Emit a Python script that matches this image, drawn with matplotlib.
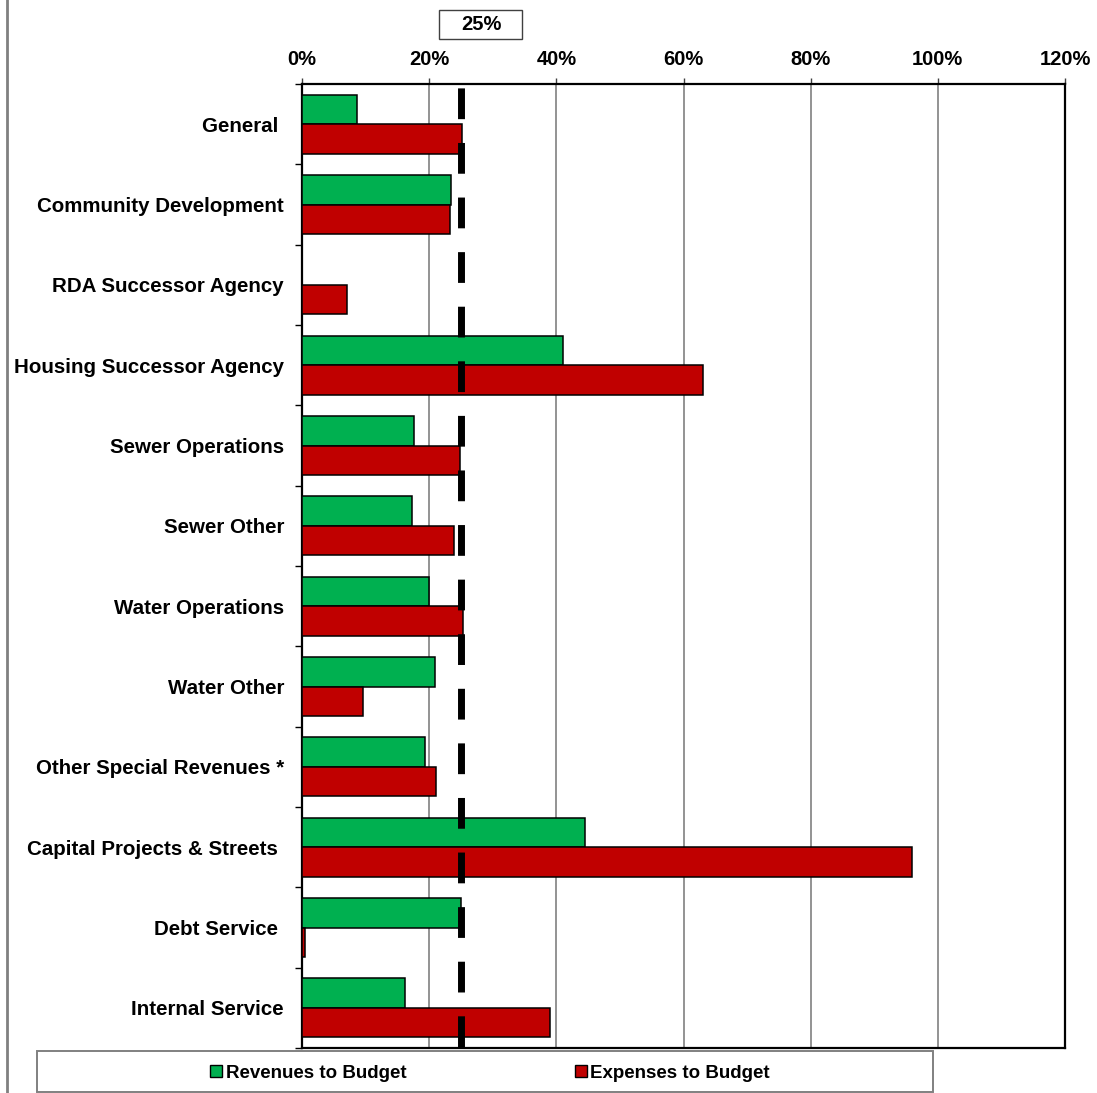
import matplotlib
matplotlib.use("Agg")
import matplotlib.pyplot as plt
from matplotlib.lines import Line2D
from matplotlib.patches import Rectangle

plt.rcParams['font.family'] = ['Liberation Sans', 'DejaVu Sans']
plt.rcParams['font.weight'] = 'bold'

# Fund categories, top to bottom
funds = [
    "General ",
    "Community Development",
    "RDA Successor Agency",
    "Housing Successor Agency",
    "Sewer Operations",
    "Sewer Other",
    "Water Operations",
    "Water Other",
    "Other Special Revenues *",
    "Capital Projects & Streets ",
    "Debt Service ",
    "Internal Service",
]

# Year-to-date share of budget
revenues = [0.086, 0.234, 0.0, 0.410, 0.176, 0.173, 0.200, 0.209, 0.193, 0.445, 0.250, 0.162]
expenses = [0.252, 0.233, 0.071, 0.630, 0.248, 0.239, 0.253, 0.096, 0.211, 0.959, 0.005, 0.390]

# Elapsed share of fiscal year (benchmark)
benchmark = 0.25
benchmark_label = "25%"

x_ticks = [0.0, 0.2, 0.4, 0.6, 0.8, 1.0, 1.2]
x_tick_labels = ["0%", "20%", "40%", "60%", "80%", "100%", "120%"]

series_labels = ["Revenues to Budget", "Expenses to Budget"]
green = "#00B050"
red = "#C00000"

W, H = 1097, 1093
fig = plt.figure(figsize=(W / 100, H / 100), dpi=100)
ax = fig.add_axes([302 / W, 1 - 1048 / H, (1065 - 302) / W, (1048 - 84) / H])

n = len(funds)
pos = list(range(n))
h = 0.367
ax.barh([p - h / 2 for p in pos], revenues, height=h, color=green,
        edgecolor="black", linewidth=1.1, zorder=3)
ax.barh([p + h / 2 for p in pos], expenses, height=h, color=red,
        edgecolor="black", linewidth=1.1, zorder=3)

ax.set_xlim(0, 1.2)
ax.set_ylim(n - 0.5, -0.5)

# Benchmark line drawn from the top of the plot downward
ax.plot([benchmark, benchmark], [-0.5, n - 0.5], color="black", lw=5.0,
        linestyle=(7.3, (4.43, 3.43)), solid_capstyle="butt",
        dash_capstyle="butt", zorder=4)

# x axis on top
ax.xaxis.tick_top()
ax.set_xticks(x_ticks)
ax.set_xticklabels(x_tick_labels, fontsize=14.5, fontweight="bold")
ax.tick_params(axis="x", which="major", length=4, width=1, pad=7, color="#404040")
ax.grid(axis="x", color="#808080", lw=1.2, zorder=0)

# category boundaries as ticks, names as minor-tick labels
ax.set_yticks([p - 0.5 for p in pos] + [n - 0.5])
ax.set_yticklabels([])
ax.tick_params(axis="y", which="major", length=5, width=1)
ax.set_yticks(pos, minor=True)
ax.set_yticklabels(funds, minor=True, fontsize=14.8, fontweight="bold")
ax.tick_params(axis="y", which="minor", length=0, pad=13)

for s in ax.spines.values():
    s.set_color("black")
    s.set_linewidth(1.6)

# Benchmark label box above the plot
fig.add_artist(Rectangle((439 / W, 1 - 39 / H), 83 / W, 29 / H,
                         transform=fig.transFigure, fill=False,
                         edgecolor="#404040", linewidth=1.0))
fig.text(481 / W, 1 - 25 / H, benchmark_label, ha="center", va="center",
         fontsize=14.5, fontweight="bold")

# Outer left border of the chart area
fig.add_artist(Line2D([7 / W, 7 / W], [0, 1], transform=fig.transFigure,
                      color="#808080", lw=2))

# Legend frame and entries
fig.add_artist(Rectangle((37 / W, 1 - 1092 / H), (933 - 37) / W, (1092 - 1051) / H,
                         transform=fig.transFigure, fill=False,
                         edgecolor="#808080", linewidth=1.4))
handles = [
    Line2D([], [], marker="s", linestyle="", markersize=8,
           markerfacecolor=green, markeredgecolor="black", markeredgewidth=1.0),
    Line2D([], [], marker="s", linestyle="", markersize=8,
           markerfacecolor=red, markeredgecolor="black", markeredgewidth=1.0),
]
fig.legend(handles, series_labels, loc="center",
           bbox_to_anchor=(490 / W, 1 - 1073 / H), ncol=2, frameon=False,
           prop={"size": 13.5, "weight": "bold"}, handlelength=0.6,
           handletextpad=0.2, columnspacing=9.0, borderpad=0)

fig.savefig("out.png", dpi=100)
